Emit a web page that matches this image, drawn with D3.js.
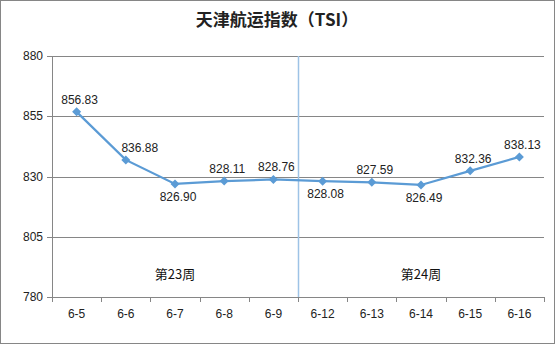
<!DOCTYPE html>
<html>
<head>
<meta charset="utf-8">
<script src="https://cdn.jsdelivr.net/npm/d3@7"></script>
<style>
  body { margin: 0; background: #fff; }
  svg { display: block; font-family: "Liberation Sans", "DejaVu Sans", sans-serif; }
</style>
</head>
<body>
<div id="chart"></div>
<script>
// data
const dates = ["6-5", "6-6", "6-7", "6-8", "6-9", "6-12", "6-13", "6-14", "6-15", "6-16"];
const values = [856.83, 836.88, 826.90, 828.11, 828.76, 828.08, 827.59, 826.49, 832.36, 838.13];
const labelBelow = [false, false, true, false, false, true, false, true, false, false];
const yTicks = [780, 805, 830, 855, 880];
const weeks = ["第23周", "第24周"];

const width = 555, height = 344;
const margin = { top: 56, right: 11, bottom: 47, left: 52 };

const svg = d3.select("#chart")
    .append("svg")
    .attr("width", width)
    .attr("height", height);

// outer frame
svg.append("rect")
    .attr("x", 0.5).attr("y", 0.5)
    .attr("width", width - 1).attr("height", height - 1)
    .attr("fill", "#fff")
    .attr("stroke", "#868686");

// title
svg.append("text")
    .attr("x", 277)
    .attr("y", 26)
    .attr("text-anchor", "middle")
    .style("font-family", "'Noto Sans CJK SC', sans-serif")
    .style("font-weight", "bold")
    .style("font-size", "17px")
    .attr("fill", "#222")
    .text("天津航运指数（TSI）");

const x = d3.scaleBand()
    .domain(dates)
    .range([margin.left, width - margin.right]);

const y = d3.scaleLinear()
    .domain([780, 880])
    .range([height - margin.bottom, margin.top]);

// horizontal gridlines
svg.append("g")
    .selectAll("line")
    .data(yTicks)
    .enter()
    .append("line")
    .attr("x1", margin.left - 5)
    .attr("x2", width - margin.right)
    .attr("y1", d => Math.round(y(d)) + 0.5)
    .attr("y2", d => Math.round(y(d)) + 0.5)
    .attr("stroke", "#868686");

// y axis line
svg.append("line")
    .attr("x1", margin.left + 0.5).attr("x2", margin.left + 0.5)
    .attr("y1", y(880)).attr("y2", y(780))
    .attr("stroke", "#868686");

// y tick labels
svg.append("g")
    .selectAll("text")
    .data(yTicks)
    .enter()
    .append("text")
    .attr("x", margin.left - 9)
    .attr("y", d => y(d))
    .attr("dy", "0.35em")
    .attr("text-anchor", "end")
    .style("font-size", "12px")
    .attr("fill", "#222")
    .text(d => d);

// x ticks at band edges
const edges = dates.map(d => x(d)).concat([x.range()[1]]);
svg.append("g")
    .selectAll("line")
    .data(edges)
    .enter()
    .append("line")
    .attr("x1", d => Math.round(d) + 0.5)
    .attr("x2", d => Math.round(d) + 0.5)
    .attr("y1", y(780))
    .attr("y2", y(780) + 5)
    .attr("stroke", "#868686");

svg.append("g")
    .selectAll("text")
    .data(dates)
    .enter()
    .append("text")
    .attr("x", d => x(d) + x.bandwidth() / 2)
    .attr("y", y(780) + 21)
    .attr("text-anchor", "middle")
    .style("font-size", "12px")
    .attr("fill", "#222")
    .text(d => d);

// week divider between 6-9 and 6-12
const divX = Math.round(x("6-12")) + 0.5;
svg.append("line")
    .attr("x1", divX).attr("x2", divX)
    .attr("y1", y(880)).attr("y2", y(780))
    .attr("stroke", "#9dc3e6")
    .attr("stroke-width", 1.5);

// week labels
const weekPos = [x("6-7") + x.bandwidth() / 2, x("6-14") + x.bandwidth() / 2];
svg.append("g")
    .selectAll("text")
    .data(weeks)
    .enter()
    .append("text")
    .attr("x", (d, i) => weekPos[i])
    .attr("y", 279)
    .attr("text-anchor", "middle")
    .style("font-family", "'Noto Sans CJK SC', sans-serif")
    .style("font-size", "13px")
    .attr("fill", "#111")
    .text(d => d);

// series line
const pts = values.map((v, i) => ({ date: dates[i], value: v, below: labelBelow[i] }));
const line = d3.line()
    .x(d => x(d.date) + x.bandwidth() / 2)
    .y(d => y(d.value));

svg.append("path")
    .datum(pts)
    .attr("d", line)
    .attr("fill", "none")
    .attr("stroke", "#5b9bd5")
    .attr("stroke-width", 2.25);

// diamond markers (square turned 45 degrees)
svg.append("g")
    .selectAll("path")
    .data(pts)
    .enter()
    .append("path")
    .attr("d", "M0,-4.5L4.5,0L0,4.5L-4.5,0Z")
    .attr("transform", d => `translate(${x(d.date) + x.bandwidth() / 2},${y(d.value)})`)
    .attr("fill", "#5b9bd5");

// data labels (the 6-6 one sits a bit right of its point, as in the original)
svg.append("g")
    .selectAll("text")
    .data(pts)
    .enter()
    .append("text")
    .attr("x", (d, i) => x(d.date) + x.bandwidth() / 2 + (i === 1 ? 14 : 3))
    .attr("y", d => d.below ? y(d.value) + 17 : y(d.value) - 8)
    .attr("text-anchor", "middle")
    .style("font-size", "12px")
    .attr("fill", "#222")
    .text(d => d.value.toFixed(2));
</script>
</body>
</html>
